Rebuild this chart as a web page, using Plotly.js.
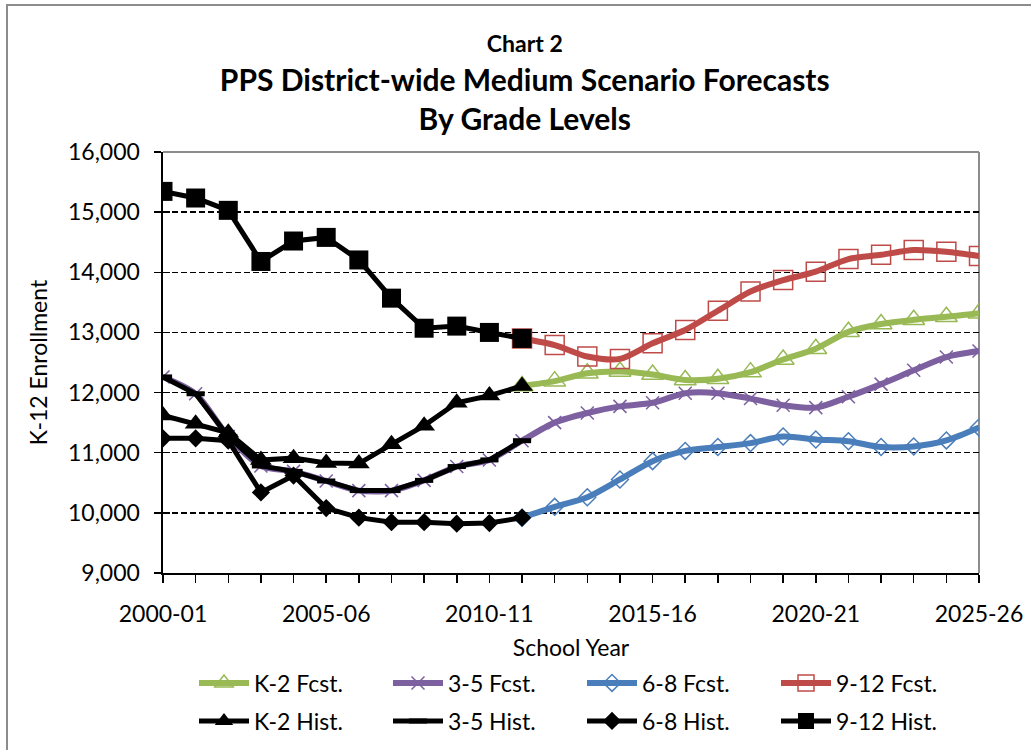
<!DOCTYPE html>
<html>
<head>
<meta charset="utf-8">
<script src="https://cdn.plot.ly/plotly-3.0.1.min.js"></script>
<style>
  html, body { margin: 0; padding: 0; background: #fff; }
  #chart { width: 1031px; height: 750px; position: absolute; left: 0; top: 0; }
  #frame { position: absolute; left: 6px; top: 4px; width: 1040px; height: 760px;
           border-left: 2px solid #8c8c8c; border-top: 2px solid #8c8c8c; pointer-events: none; }
</style>
</head>
<body>
<div id="chart"></div>
<div id="frame"></div>
<script>
// ---- data ----
const years = ["2000-01","2001-02","2002-03","2003-04","2004-05","2005-06","2006-07","2007-08",
  "2008-09","2009-10","2010-11","2011-12","2012-13","2013-14","2014-15","2015-16","2016-17",
  "2017-18","2018-19","2019-20","2020-21","2021-22","2022-23","2023-24","2024-25","2025-26"];
const histYears = years.slice(0, 12);
const fcstYears = years.slice(11);

const k2Hist   = [11620, 11480, 11330, 10880, 10910, 10830, 10820, 11140, 11450, 11830, 11950, 12110];
const k35Hist  = [12260, 11980, 11270, 10780, 10690, 10530, 10370, 10370, 10540, 10770, 10880, 11200];
const k68Hist  = [11240, 11240, 11200, 10340, 10620, 10080, 9920, 9845, 9845, 9820, 9830, 9920];
const k912Hist = [15345, 15235, 15030, 14180, 14520, 14580, 14205, 13570, 13070, 13105, 13000, 12900];

const k2Fcst   = [12110, 12190, 12320, 12350, 12300, 12210, 12230, 12340, 12550, 12730, 13010, 13140, 13210, 13260, 13320];
const k35Fcst  = [12260, 11980, 11270, 10780, 10690, 10530, 10370, 10370, 10540, 10770, 10880, 11200,
                  11500, 11660, 11770, 11830, 11990, 11990, 11900, 11790, 11750, 11930, 12140, 12370, 12590, 12690];
const k68Fcst  = [9920, 10100, 10260, 10555, 10860, 11030, 11095, 11160, 11270, 11220, 11190, 11095, 11105, 11205, 11420];
const k912Fcst = [12900, 12790, 12600, 12560, 12820, 13040, 13360, 13680, 13870, 14010, 14220, 14290, 14370, 14340, 14270];

const tickLabelYears = ["2000-01", "2005-06", "2010-11", "2015-16", "2020-21", "2025-26"];
const yTicks = [9000, 10000, 11000, 12000, 13000, 14000, 15000, 16000];

// ---- styles ----
const FONT = "Lato, 'Open Sans', sans-serif";
const green = "#98B954", purple = "#7D60A0", blue = "#4A7EBB", red = "#BE4B48", black = "#000000";

function fcst(name, x, y, color, symbol, size) {
  return {
    type: "scatter", mode: "lines+markers", name: name, x: x, y: y, legend: "legend",
    line: { color: color, width: 6, shape: "spline", smoothing: 0.8 },
    marker: { symbol: symbol, size: size, color: color, line: { color: color, width: 1.5 } }
  };
}
function hist(name, x, y, symbol, size, lw) {
  return {
    type: "scatter", mode: "lines+markers", name: name, x: x, y: y, legend: "legend2",
    line: { color: black, width: 5 },
    marker: { symbol: symbol, size: size, color: black, line: { color: black, width: lw } }
  };
}

const data = [
  fcst("K-2 Fcst.", fcstYears, k2Fcst, green, "triangle-up-open", 19),
  fcst("3-5 Fcst.", years, k35Fcst, purple, "x-thin-open", 13),
  fcst("6-8 Fcst.", fcstYears, k68Fcst, blue, "diamond-open", 13),
  fcst("9-12 Fcst.", fcstYears, k912Fcst, red, "square-open", 19),
  hist("K-2 Hist.", histYears, k2Hist, "triangle-up", 19, 0),
  hist("3-5 Hist.", histYears, k35Hist, "line-ew-open", 13, 5),
  hist("6-8 Hist.", histYears, k68Hist, "diamond", 14, 0),
  hist("9-12 Hist.", histYears, k912Hist, "square", 19, 0),
  { type: "scatter", x: [], y: [], yaxis: "y2", showlegend: false, hoverinfo: "skip" }
];

const legendCommon = {
  orientation: "h", xanchor: "left", yanchor: "middle",
  xref: "container", yref: "container",
  font: { family: FONT, size: 23, color: "#000" },
  entrywidth: 129, entrywidthmode: "pixels", itemwidth: 50,
  bgcolor: "rgba(0,0,0,0)", traceorder: "normal"
};

const layout = {
  width: 1031, height: 750,
  margin: { l: 163, r: 52, t: 152, b: 177 },
  paper_bgcolor: "#fff", plot_bgcolor: "#fff",
  font: { family: FONT, size: 23, color: "#000" },
  title: {
    text: '<span style="font-size:23px">Chart 2</span><br>PPS District-wide Medium Scenario Forecasts<br>By Grade Levels',
    font: { family: FONT, size: 30, weight: 700, color: "#000" },
    x: 0.509, xref: "container", xanchor: "center",
    y: 1 - 52 / 750, yref: "container", yanchor: "top"
  },
  xaxis: {
    type: "category", categoryorder: "array", categoryarray: years,
    range: [0, years.length - 1],
    tickmode: "array", tickvals: years,
    ticktext: years.map(y => tickLabelYears.includes(y) ? y : ""),
    ticks: "outside", ticklen: 8, tickwidth: 1.5, tickcolor: "#000",
    ticklabelstandoff: 11,
    showline: true, linecolor: "#000", linewidth: 2,
    showgrid: false, zeroline: false,
    tickfont: { family: FONT, size: 23, color: "#000" },
    title: { text: "School Year", font: { family: FONT, size: 23, color: "#000" }, standoff: 27 },
    automargin: false
  },
  yaxis: {
    range: [9000, 16000], tickmode: "array", tickvals: yTicks, tickformat: ",",
    ticks: "outside", ticklen: 7, tickwidth: 1.5, tickcolor: "#000",
    ticklabelstandoff: 9,
    showline: true, linecolor: "#000", linewidth: 2.5,
    showgrid: true, gridcolor: "#000", gridwidth: 1.3, griddash: "6px,3px",
    zeroline: false,
    tickfont: { family: FONT, size: 23, color: "#000" },
    title: { text: "K-12 Enrollment", font: { family: FONT, size: 23, color: "#000" }, standoff: 14 },
    automargin: false
  },
  yaxis2: {
    overlaying: "y", anchor: "x", side: "left", range: [9000, 16000],
    tickmode: "array", tickvals: yTicks, showticklabels: false,
    ticks: "inside", ticklen: 7, tickwidth: 1.5, tickcolor: "#000",
    showgrid: false, showline: false, zeroline: false
  },
  shapes: [
    { type: "line", xref: "paper", yref: "paper", x0: 1, x1: 1, y0: 0, y1: 1,
      line: { color: "#8c8c8c", width: 2 }, layer: "below" },
    { type: "line", xref: "paper", yref: "paper", x0: 0, x1: 1, y0: 1, y1: 1,
      line: { color: "#8c8c8c", width: 2 }, layer: "below" }
  ],
  legend: Object.assign({}, legendCommon, { x: 194 / 1031, y: 1 - 683 / 750 }),
  legend2: Object.assign({}, legendCommon, { x: 194 / 1031, y: 1 - 721 / 750 }),
  showlegend: true
};

Plotly.newPlot("chart", data, layout, { displayModeBar: false, staticPlot: true });
</script>
</body>
</html>
